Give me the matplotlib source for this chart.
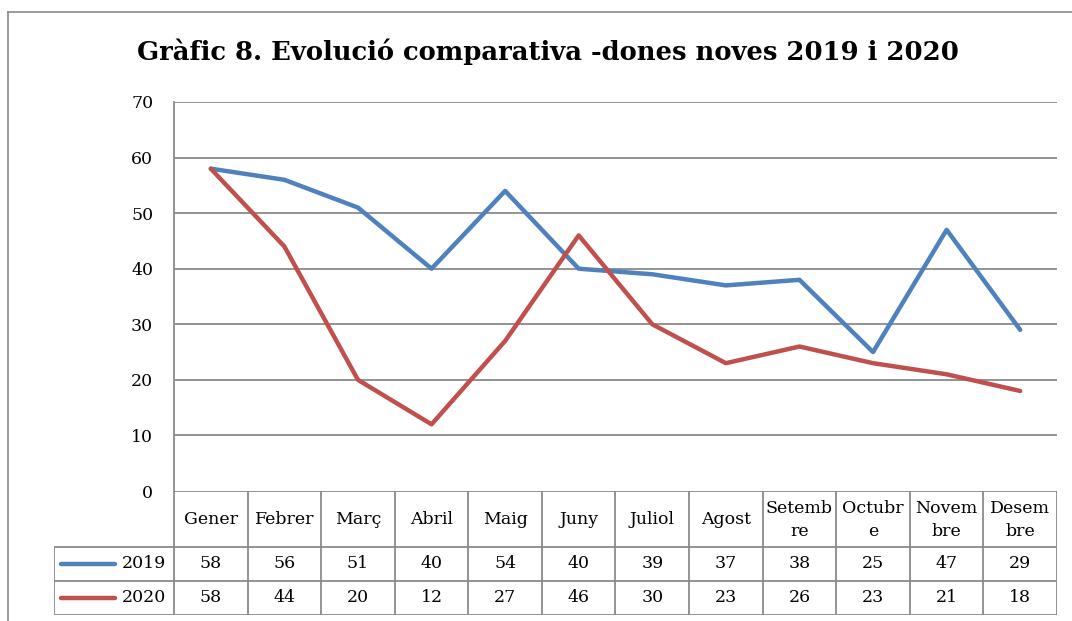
import matplotlib
matplotlib.use("Agg")
import matplotlib.pyplot as plt
from matplotlib.lines import Line2D

months = ["Gener", "Febrer", "Març", "Abril", "Maig", "Juny", "Juliol", "Agost",
          "Setemb\nre", "Octubr\ne", "Novem\nbre", "Desem\nbre"]
series_names = ["2019", "2020"]
v2019 = [58, 56, 51, 40, 54, 40, 39, 37, 38, 25, 47, 29]
v2020 = [58, 44, 20, 12, 27, 46, 30, 23, 26, 23, 21, 18]
yticks = [0, 10, 20, 30, 40, 50, 60, 70]
title = "Gràfic 8. Evolució comparativa -dones noves 2019 i 2020"

colors = ["#4F81BD", "#C0504D"]
grid_c = "#8a8a8a"
FONT = "DejaVu Serif"

W, H = 1072, 621
fig = plt.figure(figsize=(W / 100, H / 100), dpi=100)

def fx(px):
    return px / W

def fy(py):
    return 1 - py / H

# outer frame
fig.add_artist(Line2D([fx(8), fx(8)], [fy(12), fy(621)], color=grid_c, lw=1.2))
fig.add_artist(Line2D([fx(8), fx(1072)], [fy(12), fy(12)], color=grid_c, lw=1.2))

L, R, T, B = 174, 1057, 102, 491
ax = fig.add_axes([fx(L), fy(B), fx(R) - fx(L), fy(T) - fy(B)])
n = len(months)
xs = [i + 0.5 for i in range(n)]
for vals, c, name in zip([v2019, v2020], colors, series_names):
    ax.plot(xs, vals, color=c, lw=3.2, solid_capstyle="round", solid_joinstyle="round", zorder=3)
ax.set_xlim(0, n)
ax.set_ylim(0, 70)
ax.set_yticks(yticks)
ax.set_yticklabels([str(t) for t in yticks], fontfamily=FONT, fontsize=12.5)
ax.tick_params(axis="y", length=0, pad=15)
ax.set_xticks([])
for t in yticks[1:]:
    ax.axhline(t, color=grid_c, lw=1.3, zorder=1)
for s in ["top", "right", "bottom"]:
    ax.spines[s].set_visible(False)
ax.spines["left"].set_color(grid_c)
ax.spines["left"].set_linewidth(1.3)

fig.text(fx(548), fy(52), title, ha="center", va="center", fontfamily=FONT,
         fontsize=18.6, fontweight="bold")

# data table
TL, TR, TT, TB = 54, 1057, 491, 615
tax = fig.add_axes([fx(TL), fy(TB), fx(TR) - fx(TL), fy(TT) - fy(TB)])
tax.set_xlim(TL, TR)
tax.set_ylim(TB, TT)
tax.axis("off")
colw = (R - L) / n
row_y = [491, 547, 581, 615]
lk = dict(color=grid_c, lw=1.3, solid_capstyle="butt")
# horizontal lines
tax.plot([L, R], [row_y[0], row_y[0]], **lk)
for y in row_y[1:]:
    tax.plot([TL, R], [y, y], **lk)
# vertical lines
for i in range(n + 1):
    x = L + i * colw
    tax.plot([x, x], [row_y[0], row_y[3]], **lk)
tax.plot([TL, TL], [row_y[1], row_y[3]], **lk)
# header labels
for i, m in enumerate(months):
    tax.text(L + (i + 0.5) * colw, (row_y[0] + row_y[1]) / 2 + 1, m, ha="center", va="center",
             fontfamily=FONT, fontsize=12.5, linespacing=1.45)
# rows
for r, (vals, c, name) in enumerate(zip([v2019, v2020], colors, series_names)):
    yc = (row_y[r + 1] + row_y[r + 2]) / 2
    tax.plot([61, 115], [yc, yc], color=c, lw=3.2, solid_capstyle="round")
    tax.text(166, yc, name, ha="right", va="center", fontfamily=FONT, fontsize=12.5)
    for i, v in enumerate(vals):
        tax.text(L + (i + 0.5) * colw, yc, str(v), ha="center", va="center",
                 fontfamily=FONT, fontsize=12.5)

fig.savefig("out.png", dpi=100)
